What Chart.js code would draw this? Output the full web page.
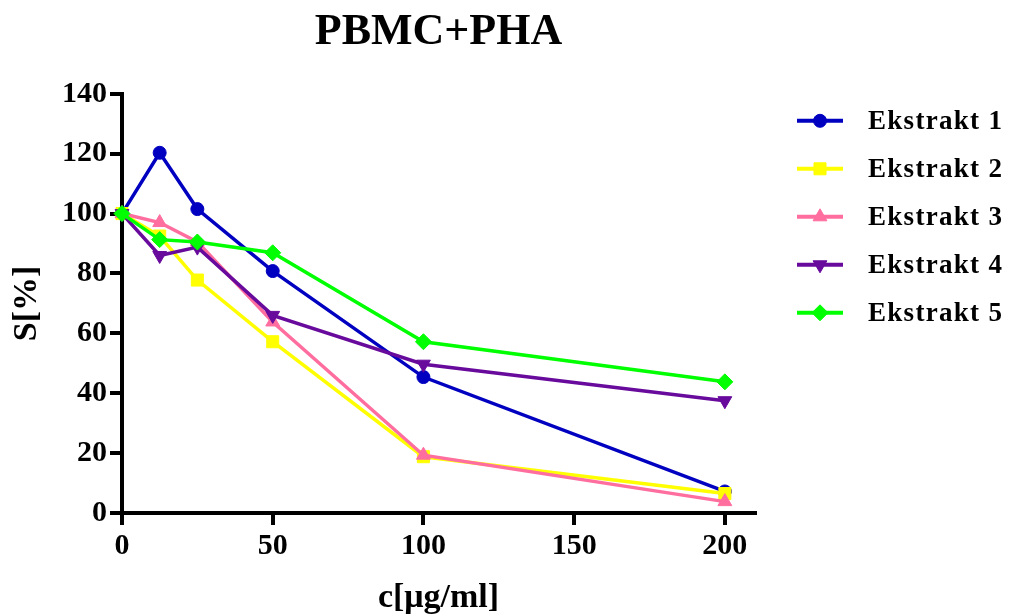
<!DOCTYPE html>
<html>
<head>
<meta charset="utf-8">
<script src="https://cdn.jsdelivr.net/npm/chart.js@4/dist/chart.umd.min.js"></script>
<style>
  html, body { margin: 0; padding: 0; background: #fff; }
  #wrap { width: 1009px; height: 615px; }
</style>
</head>
<body>
<div id="wrap"><canvas id="chart"></canvas></div>
<script>
const concentrations = [0, 12.5, 25, 50, 100, 200];
const ekstrakt1 = [100, 120.3, 101.5, 80.8, 45.4, 7.2];
const ekstrakt2 = [100, 92.5, 77.8, 57.2, 18.8, 6.5];
const ekstrakt3 = [100, 97, 90.5, 63.8, 19.3, 3.8];
const ekstrakt4 = [100, 86, 88.8, 66, 49.7, 37.5];
const ekstrakt5 = [100, 91.3, 90.5, 86.9, 57.2, 43.8];
const seriesNames = ['Ekstrakt 1', 'Ekstrakt 2', 'Ekstrakt 3', 'Ekstrakt 4', 'Ekstrakt 5'];

const serif = '"Liberation Serif", "Times New Roman", serif';

const styles = [
  { color: '#0000C0', pointStyle: 'circle', radius: 6.5, rotation: 0 },
  { color: '#FFFF00', pointStyle: 'rect', radius: 8.5, rotation: 0 },
  { color: '#FF6E9E', pointStyle: 'triangle', radius: 8, rotation: 0 },
  { color: '#680A9C', pointStyle: 'triangle', radius: 8, rotation: 180 },
  { color: '#00FF00', pointStyle: 'rectRot', radius: 8, rotation: 0 }
];

const values = [ekstrakt1, ekstrakt2, ekstrakt3, ekstrakt4, ekstrakt5];

const datasets = values.map((vals, i) => ({
  label: seriesNames[i],
  data: vals.map((v, j) => ({ x: concentrations[j], y: v })),
  borderColor: styles[i].color,
  backgroundColor: styles[i].color,
  pointBackgroundColor: styles[i].color,
  pointBorderColor: styles[i].color,
  pointBorderWidth: 1,
  pointStyle: styles[i].pointStyle,
  pointRadius: styles[i].radius,
  pointRotation: styles[i].rotation,
  borderWidth: 3.5,
  tension: 0,
  clip: false,
  order: values.length - i
}));

// legend on the right: short line with the marker, then the label
const sideLegend = {
  id: 'sideLegend',
  afterDraw(chart) {
    const ctx = chart.ctx;
    const area = chart.chartArea;
    const x0 = area.right + 42;
    const x1 = x0 + 46;
    ctx.save();
    datasets.forEach((ds, i) => {
      const y = area.top + 27 + i * 48;
      ctx.strokeStyle = ds.borderColor;
      ctx.fillStyle = ds.borderColor;
      ctx.lineWidth = 4;
      ctx.beginPath();
      ctx.moveTo(x0, y);
      ctx.lineTo(x1, y);
      ctx.stroke();
      ctx.lineWidth = 1;
      Chart.helpers.drawPoint(ctx, {
        pointStyle: ds.pointStyle,
        radius: ds.pointRadius,
        rotation: ds.pointRotation,
        borderWidth: 1
      }, (x0 + x1) / 2, y);
      ctx.fillStyle = '#000';
      ctx.font = 'bold 27px ' + serif;
      ctx.letterSpacing = '1.3px';
      ctx.textBaseline = 'middle';
      ctx.textAlign = 'left';
      ctx.fillText(ds.label, x1 + 25, y + 1);
    });
    ctx.restore();
  }
};

new Chart(document.getElementById('chart'), {
  type: 'line',
  data: { datasets },
  plugins: [sideLegend],
  options: {
    responsive: true,
    maintainAspectRatio: false,
    animation: false,
    layout: { padding: { left: 0, right: 254, top: 0, bottom: 0 } },
    plugins: {
      legend: { display: false },
      tooltip: { enabled: false },
      title: {
        display: true,
        text: 'PBMC+PHA',
        fullSize: false,
        color: '#000',
        font: { family: serif, size: 44, weight: 'bold', lineHeight: 1.2 },
        padding: { top: 6, bottom: 35 }
      }
    },
    scales: {
      x: {
        type: 'linear',
        min: 0,
        max: 210,
        afterFit: s => { s.height = 102; },
        border: { display: true, color: '#000', width: 4 },
        grid: { drawOnChartArea: false, drawTicks: true, tickLength: 12, color: '#000', lineWidth: 4 },
        ticks: {
          stepSize: 50,
          includeBounds: false,
          color: '#000',
          padding: 3,
          maxRotation: 0,
          font: { family: serif, size: 30, weight: 'bold' }
        },
        title: {
          display: true,
          text: 'c[μg/ml]',
          color: '#000',
          font: { family: serif, size: 34, weight: 'bold', lineHeight: 1 },
          padding: { top: 0, bottom: 0 }
        }
      },
      y: {
        min: 0,
        max: 140,
        afterFit: s => { s.width = 122; },
        border: { display: true, color: '#000', width: 4 },
        grid: { drawOnChartArea: false, drawTicks: true, tickLength: 12, color: '#000', lineWidth: 4 },
        ticks: {
          stepSize: 20,
          color: '#000',
          padding: 3,
          font: { family: serif, size: 30, weight: 'bold' }
        },
        title: {
          display: true,
          text: 'S[%]',
          color: '#000',
          font: { family: serif, size: 34, weight: 'bold', lineHeight: 1.2 },
          padding: { top: 7, bottom: 0 }
        }
      }
    }
  }
});
</script>
</body>
</html>
